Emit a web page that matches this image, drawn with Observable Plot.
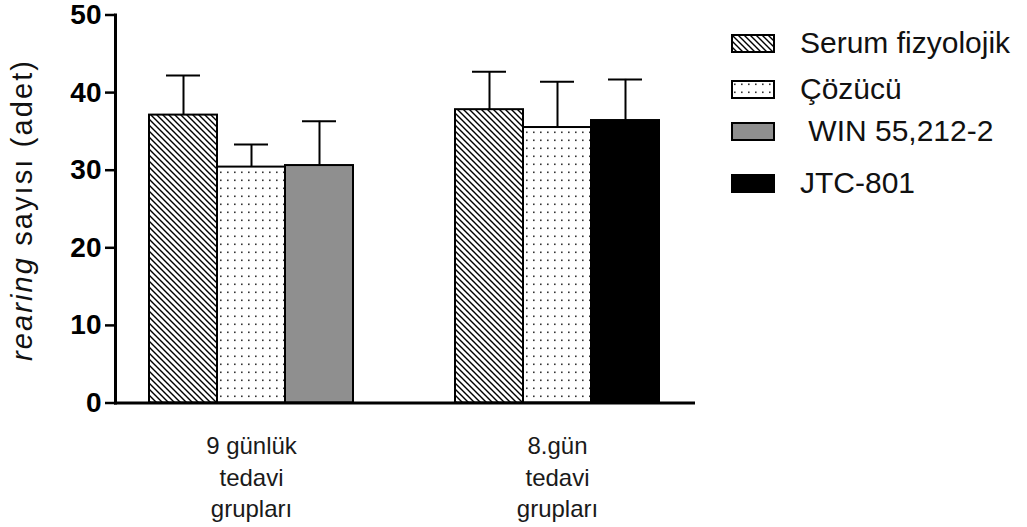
<!DOCTYPE html>
<html><head><meta charset="utf-8">
<script src="https://cdn.jsdelivr.net/npm/d3@7"></script>
<script src="https://cdn.jsdelivr.net/npm/@observablehq/plot@0.6"></script>
<style>
body{margin:0;background:#fff;font-family:"Liberation Sans",Arial,sans-serif;}
#wrap{position:relative;width:1027px;height:527px;overflow:hidden;}
#legend{position:absolute;left:731px;top:0;}
.row{position:absolute;left:0;display:flex;align-items:center;white-space:pre;font-size:30px;color:#111;height:40px;}
.row svg{margin-right:25px;display:block;}
</style></head>
<body><div id="wrap"><div id="chart"></div><div id="legend"></div></div>
<script>
const groups = ["9 günlük\ntedavi\ngrupları", "8.gün\ntedavi\ngrupları"];
const seriesNames = ["Serum fizyolojik", "Çözücü", "WIN 55,212-2", "JTC-801"];
const legendLabels = ["Serum fizyolojik", "Çözücü", " WIN 55,212-2", "JTC-801"];
const slots = ["1", "2", "3"];
const group1Series = ["Serum fizyolojik", "Çözücü", "WIN 55,212-2"];
const group1Means = [37.1, 30.4, 30.6];
const group1Errors = [5.1, 2.9, 5.7];
const group2Series = ["Serum fizyolojik", "Çözücü", "JTC-801"];
const group2Means = [37.8, 35.5, 36.4];
const group2Errors = [4.9, 5.9, 5.3];
const yTicks = [0, 10, 20, 30, 40, 50];

const fills = ["url(#hatch)", "url(#dots)", "#8f8f8f", "#000000"];

const rows = [];
group1Series.forEach((s, i) => rows.push({group: groups[0], slot: slots[i], series: s, mean: group1Means[i], err: group1Errors[i]}));
group2Series.forEach((s, i) => rows.push({group: groups[1], slot: slots[i], series: s, mean: group2Means[i], err: group2Errors[i]}));

const chart = Plot.plot({
  width: 1027, height: 527,
  marginLeft: 115, marginRight: 333, marginTop: 14.5, marginBottom: 124.5,
  fx: {domain: groups, paddingInner: 0.11, paddingOuter: 0, label: null, axis: null},
  x: {domain: slots, paddingInner: 0, paddingOuter: 0.5, axis: null},
  y: {domain: [0, 50], label: null, axis: null},
  color: {domain: seriesNames, range: fills},
  style: {fontFamily: "'Liberation Sans', Arial, sans-serif", color: "#000", background: "#fff", overflow: "visible"},
  marks: [
    Plot.barY(rows, {fx: "group", x: "slot", y: "mean", fill: "series", stroke: "#000", strokeWidth: 2}),
    Plot.ruleX(rows, {fx: "group", x: "slot", y1: "mean", y2: d => d.mean + d.err, stroke: "#000", strokeWidth: 2}),
    Plot.tickY(rows, {fx: "group", x: "slot", y: d => d.mean + d.err, stroke: "#000", strokeWidth: 2, insetLeft: 17, insetRight: 17}),
    Plot.frame({facet: "super", anchor: "left", stroke: "#000", strokeWidth: 3}),
    Plot.frame({facet: "super", anchor: "bottom", stroke: "#000", strokeWidth: 3}),
    Plot.axisY({ticks: yTicks, tickSize: 10, tickPadding: 4, fontSize: 28, fontWeight: "bold", strokeWidth: 2.5, label: null}),
    Plot.axisFx({anchor: "bottom", tickSize: 0, tickPadding: 29, fontSize: 24, lineHeight: 1.31, fill: "#1a1a1a", label: null})
  ]
});

chart.insertAdjacentHTML("afterbegin", `<defs>
<pattern id="hatch" patternUnits="userSpaceOnUse" width="6" height="6">
<rect width="6" height="6" fill="#fff"/>
<path d="M-1,-1 L7,7 M-1,5 L1,7 M5,-1 L7,1" stroke="#000" stroke-width="1.4"/>
</pattern>
<pattern id="dots" patternUnits="userSpaceOnUse" width="7" height="8">
<rect width="7" height="8" fill="#fff"/>
<rect x="3" y="3.5" width="1.6" height="1.6" fill="#333"/>
</pattern>
</defs>`);
chart.insertAdjacentHTML("beforeend",
  `<text transform="translate(32,211) rotate(-90)" text-anchor="middle" font-size="29" fill="#111" textLength="300" lengthAdjust="spacing"><tspan font-style="italic">rearing</tspan> sayısı (adet)</text>`);
document.getElementById("chart").appendChild(chart);

const rowCenters = [43, 89, 131, 183];
const legend = document.getElementById("legend");
seriesNames.forEach((s, i) => {
  const div = document.createElement("div");
  div.className = "row";
  div.style.top = (rowCenters[i] - 20) + "px";
  div.innerHTML = `<svg width="44" height="19"><rect x="1" y="1" width="42" height="17" fill="${fills[i]}" stroke="#000" stroke-width="2"/></svg><span>${legendLabels[i]}</span>`;
  legend.appendChild(div);
});
</script>
</body></html>
